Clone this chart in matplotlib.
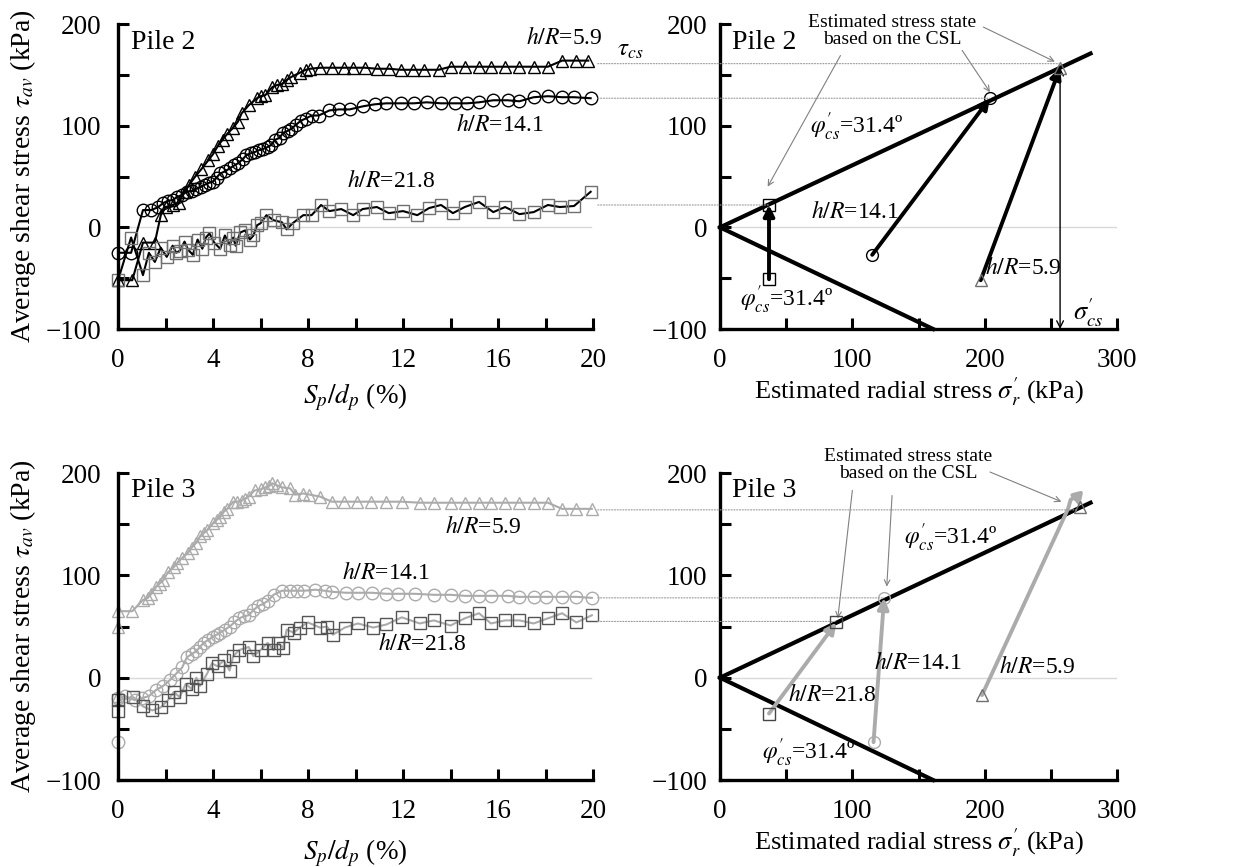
import matplotlib
matplotlib.use("Agg")
import matplotlib.pyplot as plt
from matplotlib.patches import ConnectionPatch

plt.rcParams['font.family'] = ['Liberation Serif', 'DejaVu Serif']
plt.rcParams['mathtext.fontset'] = 'stix'

# ---- Pile 2, shear stress vs normalised displacement ----
p2_tri_x = [0, 0.6, 1.05, 1.55, 1.8, 2.0, 2.3, 2.55, 2.8, 3.0, 3.25, 3.5, 3.8, 4.0, 4.2, 4.4, 4.6, 4.85,
            5.05, 5.2, 5.5, 5.85, 6.0, 6.2, 6.5, 6.7, 6.9, 7.1, 7.3, 7.65, 7.9, 8.1, 8.5, 9.0, 9.5, 9.9,
            10.4, 10.9, 11.4, 11.9, 12.4, 12.9, 13.5, 14.0, 14.6, 15.2, 15.7, 16.3, 16.9, 17.5, 18.1,
            18.7, 19.3, 19.8]
p2_tri_y = [-52, -52, -15, -15, 12, 20, 22, 24, 35, 42, 50, 57, 66, 72, 80, 86, 92, 98,
            104, 112, 120, 127, 129, 130, 138, 140, 141, 145, 148, 152, 155, 156, 157, 157, 157, 157,
            157, 156, 156, 155, 155, 155, 155, 158, 158, 158, 158, 158, 158, 158, 158,
            164, 164, 164]

p2_cir_x = [0, 0.55, 1.05, 1.4, 1.7, 1.9, 2.1, 2.3, 2.5, 2.7, 2.9, 3.1, 3.3, 3.5, 3.65, 3.85, 4.0, 4.15,
            4.3, 4.5, 4.7, 4.9, 5.05, 5.25, 5.4, 5.6, 5.75, 5.95, 6.1, 6.3, 6.45, 6.6, 6.8, 6.95, 7.15,
            7.3, 7.5, 7.7, 7.9, 8.15, 8.45, 8.9, 9.3, 9.75, 10.3, 10.8, 11.3, 11.9, 12.45, 13.0, 13.6,
            14.2, 14.7, 15.2, 15.8, 16.4, 16.9, 17.5, 18.1, 18.7, 19.2, 19.9]
p2_cir_y = [-25, -25, 17, 17, 20, 24, 26, 27, 30, 32, 35, 36, 38, 40, 42, 44, 45, 49,
            53, 55, 58, 61, 63, 67, 71, 73, 74, 76, 77, 79, 81, 86, 88, 93, 95,
            97, 101, 105, 107, 110, 110, 115, 116, 116, 119, 121, 122, 122, 122, 123, 122,
            122, 122, 123, 125, 125, 124, 128, 129, 128, 128, 127]

p2_sq_x = [0, 0.55, 1.05, 1.3, 1.55, 1.8, 2.05, 2.3, 2.45, 2.6, 2.8, 2.95, 3.15, 3.35, 3.55, 3.7, 3.85,
           4.05, 4.3, 4.5, 4.7, 4.85, 4.95, 5.15, 5.35, 5.55, 5.7, 5.85, 6.0, 6.25, 6.55, 6.9, 7.1,
           7.35, 7.8, 8.15, 8.55, 8.9, 9.4, 9.9, 10.3, 10.9, 11.4, 12.0, 12.6, 13.1, 13.6, 14.1, 14.6,
           15.2, 15.8, 16.3, 16.9, 17.5, 18.1, 18.6, 19.2, 19.9]
p2_sq_y = [-52, -10, -47, -25, -34, -20, -29, -18, -25, -23, -14, -22, -27, -12, -21, -10, -6,
           -15, -21, -8, -17, -10, -18, -5, -3, -12, -8, 2, 4, 12, 7, 5, -2,
           4, 12, 12, 22, 16, 18, 12, 18, 20, 14, 16, 12, 19, 22, 14, 20,
           25, 15, 20, 13, 15, 22, 20, 21, 35]

# ---- Pile 3 ----
p3_tri_x = [0, 0, 0, 0.6, 1.05, 1.25, 1.4, 1.6, 1.75, 1.9, 2.1, 2.35, 2.5, 2.7, 2.95, 3.1, 3.3, 3.45,
            3.6, 3.75, 4.0, 4.15, 4.3, 4.45, 4.6, 4.85, 5.0, 5.2, 5.35, 5.5, 5.75, 6.0, 6.2, 6.35, 6.5,
            6.7, 6.9, 7.25, 7.45, 7.8, 8.05, 8.5, 9.0, 9.5, 10.05, 10.65, 11.3, 11.95, 12.7, 13.3,
            14.0, 14.6, 15.2, 15.7, 16.3, 16.9, 17.5, 18.1, 18.7, 19.3, 19.95]
p3_tri_y = [-18, 50, 65, 65, 76, 78, 82, 89, 92, 95, 103, 108, 112, 117, 122, 127, 132, 138,
            141, 144, 151, 154, 157, 162, 165, 172, 172, 173, 175, 177, 183, 184, 186, 187, 190,
            188, 186, 185, 179, 180, 179, 177, 172, 172, 172, 172, 172, 172, 171, 171,
            171, 171, 171, 171, 171, 171, 171, 171, 165, 165, 165]

p3_cir_x = [0, 0, 0.3, 0.7, 1.0, 1.3, 1.6, 1.9, 2.2, 2.45, 2.7, 2.9, 3.1, 3.3, 3.45, 3.6, 3.8, 4.0,
            4.15, 4.3, 4.5, 4.7, 4.9, 5.1, 5.3, 5.5, 5.7, 5.9, 6.1, 6.3, 6.55, 6.9, 7.25, 7.55, 7.85,
            8.3, 8.7, 9.0, 9.6, 10.1, 10.7, 11.3, 11.8, 12.5, 13.3, 14.0, 14.6, 15.2, 15.7, 16.4,
            16.9, 17.5, 18.0, 18.7, 19.3, 19.95]
p3_cir_y = [-63, -20, -18, -22, -20, -18, -12, -8, -2, 4, 10, 20, 23, 26, 30, 34, 37, 40,
            42, 44, 47, 50, 54, 58, 60, 61, 66, 70, 72, 75, 81, 85, 85, 85, 85,
            86, 85, 84, 83, 83, 83, 82, 82, 82, 81, 81, 80, 80, 80, 80,
            79, 79, 79, 79, 79, 78]

p3_sq_x = [0, 0, 0.65, 1.05, 1.45, 1.8, 2.1, 2.35, 2.6, 2.85, 3.1, 3.3, 3.45, 3.75, 3.95, 4.2, 4.45,
           4.7, 4.85, 5.1, 5.5, 5.7, 6.0, 6.3, 6.55, 6.75, 6.95, 7.1, 7.4, 7.65, 8.0, 8.5, 8.8, 9.05,
           9.55, 10.1, 10.75, 11.3, 11.95, 12.7, 13.3, 14.0, 14.6, 15.2, 15.7, 16.3, 16.9, 17.5,
           18.1, 18.7, 19.3, 19.95]
p3_sq_y = [-33, -22, -19, -28, -32, -29, -22, -14, -19, -6, -11, 0, -8, 4, 14, 11, 17,
           7, 21, 27, 30, 21, 27, 34, 27, 34, 29, 47, 44, 49, 54, 49, 50, 42,
           49, 53, 49, 52, 59, 53, 56, 51, 58, 63, 53, 56, 56, 53,
           58, 63, 54, 61]

# ---- stress paths (radial stress, shear stress): start -> end ----
csl_up_x, csl_up_y = [0, 280], [0, 171]
csl_dn_x, csl_dn_y = [0, 161], [0, -100]

p2_path_sq = ([37, 37], [-51, 22])
p2_path_ci = ([115, 204], [-27, 127])
p2_path_tr = ([197, 257], [-52, 157])

p3_path_sq = ([37, 88], [-35, 54])
p3_path_ci = ([116, 124], [-63, 78])
p3_path_tr = ([198, 263, 265, 268, 271, 272], [-17, 165, 174, 176, 172, 167])

# critical state shear stress levels carried across panels
p2_tau_cs = [161, 127, 22]
p2_sig_cs = [257, 204, 37]
p3_tau_cs = [164, 78, 55]
p3_sig_cs = [270, 124, 88]

BLACK = 'k'
LGRAY = '#ababab'
DGRAY = '#707070'

fig = plt.figure(figsize=(12.49, 8.67), dpi=100)
ax_tl = fig.add_axes([0.0945, 0.6205, 0.3803, 0.3518])
ax_tr = fig.add_axes([0.5765, 0.6205, 0.3178, 0.3518])
ax_bl = fig.add_axes([0.0945, 0.1003, 0.3803, 0.3541])
ax_br = fig.add_axes([0.5765, 0.1003, 0.3178, 0.3541])


def style(ax, xmax, xmaj, xmin, ypad):
    ax.set_xlim(0, xmax)
    ax.set_ylim(-100, 200)
    for s in ['top', 'right']:
        ax.spines[s].set_visible(False)
    for s in ['left', 'bottom']:
        ax.spines[s].set_linewidth(2.4)
    ax.set_xticks(xmaj)
    ax.set_xticks(xmin, minor=True)
    ax.set_yticks([-100, 0, 100, 200])
    ax.set_yticks([-50, 50, 150], minor=True)
    ax.tick_params(which='both', direction='in', length=8, width=2.2)
    ax.tick_params(axis='x', labelsize=19.5, pad=14)
    ax.tick_params(axis='y', labelsize=19.5, pad=ypad)


for ax in (ax_tl, ax_bl):
    style(ax, 20, [0, 4, 8, 12, 16, 20], [2, 6, 10, 14, 18], 12)
    ax.plot([0, 19.9], [0, 0], color='#d9d9d9', lw=1, zorder=0)
    ax.set_ylabel(r'Average shear stress $\tau_{av}$ (kPa)', fontsize=20)
    ax.set_xlabel(r'$S_p/d_p$ (%)', fontsize=19.5)
    ax.yaxis.set_label_coords(-0.2, 0.5)
    ax.yaxis.label.set_va('center')

ax_tl.xaxis.set_label_coords(0.5, -0.225)
ax_bl.xaxis.set_label_coords(0.5, -0.24)
ax_tl.xaxis.label.set_va('center')
ax_bl.xaxis.label.set_va('center')

for ax in (ax_tr, ax_br):
    style(ax, 300, [0, 100, 200, 300], [50, 150, 250], 9)
    ax.plot([0, 300], [0, 0], color='#d9d9d9', lw=1, zorder=0)
    ax.plot(csl_up_x, csl_up_y, color=BLACK, lw=3, clip_on=False, zorder=2)
    ax.plot(csl_dn_x, csl_dn_y, color=BLACK, lw=3, clip_on=False, zorder=2)
    ax.set_xlabel(r"Estimated radial stress $\sigma^{\prime}_{r}$ (kPa)", fontsize=19)
    ax.xaxis.set_label_coords(0.5, -0.205)
    ax.xaxis.label.set_va('center')

# left panels: series
kw = dict(mfc='none', clip_on=False, mew=1)
ax_tl.plot(p2_tri_x, p2_tri_y, '-', color=BLACK, lw=1.5, marker='^', mec=BLACK, ms=8, **kw)
ax_tl.plot(p2_cir_x, p2_cir_y, '-', color=BLACK, lw=1.5, marker='o', mec=BLACK, ms=9, **kw)
ax_tl.plot(p2_sq_x, p2_sq_y, '-', color=BLACK, lw=1.5, marker='s', mec=DGRAY, ms=8.5, **kw)

ax_bl.plot(p3_tri_x, p3_tri_y, '-', color=LGRAY, lw=1.5, marker='^', mec=LGRAY, ms=8, **kw)
ax_bl.plot(p3_cir_x, p3_cir_y, '-', color=LGRAY, lw=1.5, marker='o', mec=LGRAY, ms=9, **kw)
ax_bl.plot(p3_sq_x, p3_sq_y, '-', color=LGRAY, lw=1.5, marker='s', mec='#555555', ms=8.5, **kw)

lab = dict(fontsize=17, ha='center', va='center')
ax_tl.text(0.55, 182, 'Pile 2', fontsize=20, va='center')
ax_tl.text(18.8, 186, r'$h/R$=5.9', **lab)
ax_tl.text(16.1, 101, r'$h/R$=14.1', **lab)
ax_tl.text(11.5, 46, r'$h/R$=21.8', **lab)

ax_bl.text(0.55, 183, 'Pile 3', fontsize=20, va='center')
ax_bl.text(15.4, 147, r'$h/R$=5.9', **lab)
ax_bl.text(11.3, 102, r'$h/R$=14.1', **lab)
ax_bl.text(12.8, 33, r'$h/R$=21.8', **lab)


# right panels: stress paths
def path(ax, pts, color, marker, ms, mec, lw):
    xs, ys = pts
    if len(xs) > 2:
        ax.plot(xs[:-1], ys[:-1], color=color, lw=lw, solid_capstyle='round', zorder=3)
    ax.annotate('', xy=(xs[-1], ys[-1]), xytext=(xs[-2], ys[-2]),
                arrowprops=dict(arrowstyle='-|>', color=color, lw=lw, mutation_scale=16,
                                shrinkA=0, shrinkB=0), zorder=3)
    ax.plot([xs[0], xs[-1]], [ys[0], ys[-1]], ls='none', marker=marker, ms=ms,
            mfc='none', mec=mec, mew=1, zorder=4, clip_on=False)


path(ax_tr, p2_path_sq, BLACK, 's', 8.5, BLACK, 2.8)
path(ax_tr, p2_path_ci, BLACK, 'o', 8.5, BLACK, 2.8)
path(ax_tr, p2_path_tr, BLACK, '^', 8, DGRAY, 2.8)

path(ax_br, p3_path_sq, LGRAY, 's', 8.5, '#444444', 2.8)
path(ax_br, p3_path_ci, LGRAY, 'o', 8.5, LGRAY, 2.8)
path(ax_br, p3_path_tr, LGRAY, '^', 8, DGRAY, 2.8)

ax_tr.text(9, 182, 'Pile 2', fontsize=20, va='center')
ax_br.text(9, 183, 'Pile 3', fontsize=20, va='center')

phi = r"$\varphi^{\prime}_{cs}$=31.4º"
ax_tr.text(103, 99, phi, **lab)
ax_tr.text(50, -71, phi, **lab)
ax_tr.text(102, 15, r'$h/R$=14.1', **lab)
ax_tr.text(229, -40, r'$h/R$=5.9', **lab)
ax_tr.text(-68, 174, r'$\tau_{cs}$', fontsize=18, ha='center', va='center', clip_on=False)
ax_tr.text(278, -84, r"$\sigma^{\prime}_{cs}$", fontsize=19, ha='center', va='center')
ax_tr.annotate('', xy=(257, -100), xytext=(257, 157),
               arrowprops=dict(arrowstyle='<->', color=BLACK, lw=1, shrinkA=0, shrinkB=0,
                               mutation_scale=12))

ax_br.text(174, 137, phi, **lab)
ax_br.text(67, -73, phi, **lab)
ax_br.text(150, 14, r'$h/R$=14.1', **lab)
ax_br.text(240, 10, r'$h/R$=5.9', **lab)
ax_br.text(85, -17, r'$h/R$=21.8', **lab)

note = 'Estimated stress state\nbased on the CSL'
ax_tr.text(130, 193, note, fontsize=14, ha='center', va='center', linespacing=1.0)
ax_br.text(142, 208, note, fontsize=14, ha='center', va='center', linespacing=1.0)

thin = dict(arrowstyle='->', color='#808080', lw=0.8, shrinkA=0, shrinkB=0)
for tail, tip in [((91, 169), (36, 40)), ((183, 174), (204, 133)), ((199, 197), (253, 163))]:
    ax_tr.annotate('', xy=tip, xytext=tail, arrowprops=thin, annotation_clip=False)
for tail, tip in [((100, 183), (89, 58)), ((130, 178), (126, 89)), ((204, 201), (258, 172))]:
    ax_br.annotate('', xy=tip, xytext=tail, arrowprops=thin, annotation_clip=False)

# dotted lines linking the final shear stress to the CSL state
for axl, axr, taus, sigs in [(ax_tl, ax_tr, p2_tau_cs, p2_sig_cs), (ax_bl, ax_br, p3_tau_cs, p3_sig_cs)]:
    for t, s in zip(taus, sigs):
        con = ConnectionPatch(xyA=(20.2, t), coordsA=axl.transData, xyB=(s, t), coordsB=axr.transData,
                              linestyle=(0, (1, 1.5)), color='#999999', lw=0.8, zorder=1)
        fig.add_artist(con)

fig.savefig('out.png', dpi=100)
